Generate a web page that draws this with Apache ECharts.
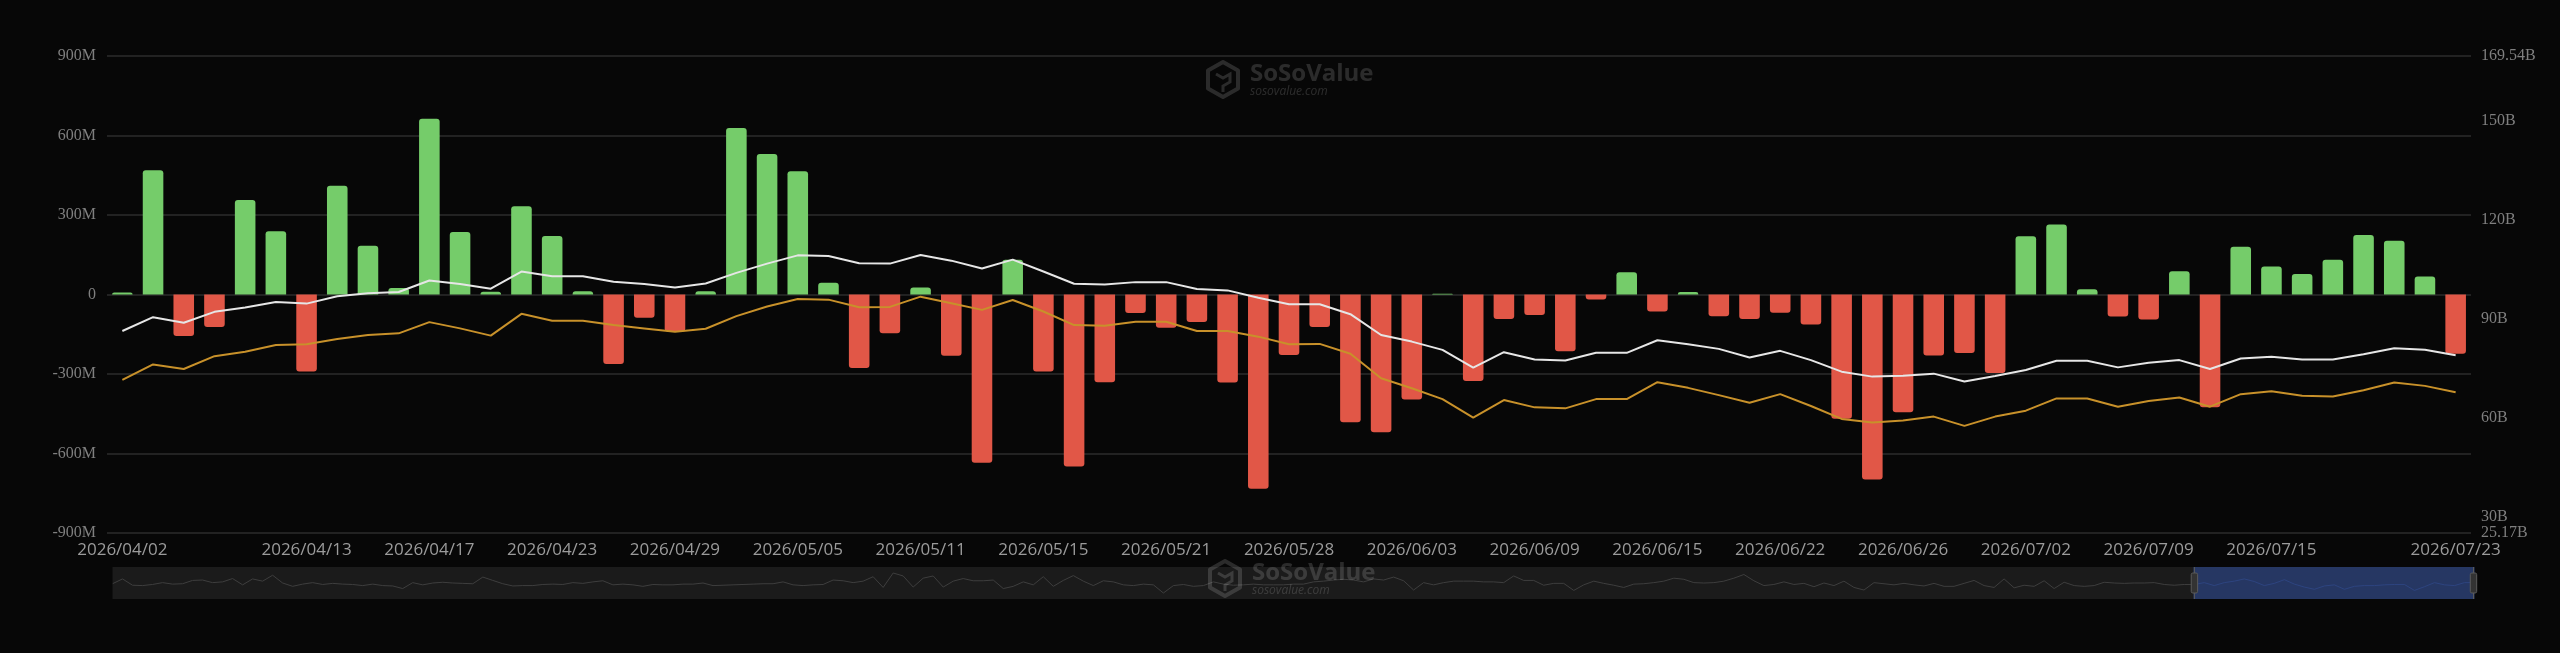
<!DOCTYPE html>
<html>
<head>
<meta charset="utf-8">
<title>Spot ETF Daily Net Inflow</title>
<script src="https://cdn.jsdelivr.net/npm/echarts@6/dist/echarts.min.js"></script>
<style>
  html, body { margin: 0; padding: 0; background: #070707; }
  #chart { width: 2560px; height: 653px; }
</style>
</head>
<body>
<div id="chart"></div>
<script>
// trading days shown in the window
const dates = [
  "2026/04/02", "2026/04/06", "2026/04/07", "2026/04/08", "2026/04/09", "2026/04/10",
  "2026/04/13", "2026/04/14", "2026/04/15", "2026/04/16", "2026/04/17",
  "2026/04/20", "2026/04/21", "2026/04/22", "2026/04/23", "2026/04/24",
  "2026/04/27", "2026/04/28", "2026/04/29", "2026/04/30", "2026/05/01",
  "2026/05/04", "2026/05/05", "2026/05/06", "2026/05/07", "2026/05/08",
  "2026/05/11", "2026/05/12", "2026/05/13", "2026/05/14", "2026/05/15",
  "2026/05/18", "2026/05/19", "2026/05/20", "2026/05/21", "2026/05/22",
  "2026/05/26", "2026/05/27", "2026/05/28", "2026/05/29",
  "2026/06/01", "2026/06/02", "2026/06/03", "2026/06/04", "2026/06/05",
  "2026/06/08", "2026/06/09", "2026/06/10", "2026/06/11", "2026/06/12",
  "2026/06/15", "2026/06/16", "2026/06/17", "2026/06/18",
  "2026/06/22", "2026/06/23", "2026/06/24", "2026/06/25", "2026/06/26",
  "2026/06/29", "2026/06/30", "2026/07/01", "2026/07/02",
  "2026/07/06", "2026/07/07", "2026/07/08", "2026/07/09", "2026/07/10",
  "2026/07/13", "2026/07/14", "2026/07/15", "2026/07/16", "2026/07/17",
  "2026/07/20", "2026/07/21", "2026/07/22", "2026/07/23"
];

// dates that carry a visible tick label
const labelledDates = [
  "2026/04/02", "2026/04/13", "2026/04/17", "2026/04/23", "2026/04/29",
  "2026/05/05", "2026/05/11", "2026/05/15", "2026/05/21", "2026/05/28",
  "2026/06/03", "2026/06/09", "2026/06/15", "2026/06/22", "2026/06/26",
  "2026/07/02", "2026/07/09", "2026/07/15", "2026/07/23"
];

// daily total net inflow, million USD
const dailyNetInflow = [
  8, 469, -157, -123, 357, 239, -291, 410, 184, 25,
  663, 236, 10, 333, 221, 12, -262, -88, -140, 12,
  628, 530, 465, 44, -277, -146, 26, -231, -635, 131,
  -291, -649, -331, -70, -125, -104, -332, -733, -228, -123,
  -482, -520, -396, 3, -326, -92, -77, -214, -19, 84,
  -64, 9, -82, -92, -69, -113, -469, -698, -444, -230,
  -221, -296, 220, 264, 20, -83, -94, 88, -425, 180,
  106, 77, 131, 225, 203, 68, -224
];

// total net assets, billion USD (white line)
const totalNetAssets = [
  86.3, 90.5, 88.8, 92.1, 93.4, 95.1, 94.6, 96.8, 97.7, 98.1,
  101.6, 100.5, 99.1, 104.3, 102.9, 102.9, 101.2, 100.5, 99.5, 100.7,
  103.9, 106.7, 109.2, 109.0, 106.8, 106.7, 109.3, 107.6, 105.2, 107.9,
  104.3, 100.6, 100.4, 101.1, 101.1, 99.0, 98.6, 96.4, 94.4, 94.4,
  91.4, 85.1, 83.1, 80.6, 75.2, 79.9, 77.7, 77.4, 79.7, 79.7,
  83.5, 82.3, 80.9, 78.3, 80.3, 77.5, 74.0, 72.5, 72.8, 73.4,
  71.0, 72.7, 74.5, 77.3, 77.3, 75.3, 76.7, 77.5, 74.8, 78.0,
  78.5, 77.7, 77.7, 79.3, 81.1, 80.6, 79.0
];

// cumulative total net inflow, billion USD (orange line)
const cumulativeNetInflow = [
  71.5, 76.2, 74.8, 78.7, 80.0, 82.1, 82.3, 83.9, 85.1, 85.6,
  89.0, 87.1, 84.9, 91.5, 89.4, 89.4, 88.1, 87.1, 86.1, 87.0,
  90.8, 93.7, 96.0, 95.8, 93.5, 93.6, 96.7, 94.7, 92.7, 95.7,
  92.2, 88.1, 87.9, 89.1, 89.1, 86.3, 86.3, 84.6, 82.3, 82.4,
  79.4, 72.0, 69.0, 65.7, 60.1, 65.4, 63.2, 62.9, 65.7, 65.7,
  70.8, 69.1, 66.9, 64.6, 67.2, 63.6, 59.7, 58.6, 59.2, 60.4,
  57.6, 60.4, 62.2, 65.9, 65.9, 63.4, 65.1, 66.2, 63.4, 67.2,
  68.1, 66.7, 66.5, 68.4, 70.7, 69.7, 67.8
];

// long history of daily net inflow (million USD)
const historyInflow = [
  40, 560, -120, -160, -40, 160, 0, 40, 400, 440,
  160, 240, 600, -80, 560, 320, 960, 120, -240, 0,
  160, -40, 80, 0, -40, -160, 0, -160, -200, -480,
  160, -80, 120, 200, 120, 80, 40, 760, 400, 40,
  -200, -160, -160, -40, 0, -40, 160, 80, 240, 360,
  -80, 0, -80, -240, -40, -80, -80, 0, 0, 120,
  -160, -120, -80, -40, 0, 40, 40, 240, -80, -160,
  -80, -40, 440, 360, 160, 320, 800, -360, 1200, 880,
  -320, 640, 880, -320, 320, 600, 360, 360, 440, -480,
  -240, 240, -80, 800, -240, 400, 920, 320, -160, 360,
  240, -80, -160, 0, -80, -960, -160, -40, -240, -160,
  240, 0, -120, -80, 0, -80, -80, -80, 0, 0,
  240, 320, 440, 520, 440, 240, 560, 440, 760, 360,
  -640, 160, -80, 160, 320, 320, 320, 240, 240, 160,
  880, 400, 400, -120, 80, 80, -680, -80, 320, 80,
  -120, -360, 0, 40, 160, 320, 640, 520, 160, 120,
  160, 320, 640, 1040, 360, -160, -40, 240, -40, 80,
  -280, 120, -160, 320, -360, -640, 160, 40, -80, 80,
  -80, -200, 80, -240, -240, 80, 400, -160, -360, 560,
  -400, -120, -240, 360, -480, 200, -160, -240, -160, 200,
  120, 80, 120, 120, 160, -40, -120, -40, -40,
  160, -160, 160, 320, 560, 280, -160, 80, 480, 0,
  -320, -560, -200, -80, -560, -240, -160, -160, -80, -40,
  -40, -680, -280, 160, -80, -160, 160, 160
];

const GREEN = "#75cc6a";
const RED = "#e15747";
const WM = "rgba(255,255,255,0.15)";

const chart = echarts.init(document.getElementById("chart"));

const barData = dailyNetInflow.map((v) => ({
  value: v,
  itemStyle: {
    color: v >= 0 ? GREEN : RED,
    borderRadius: v >= 0 ? [3, 3, 0, 0] : [0, 0, 3, 3],
  },
}));

// SoSoValue watermark, drawn above everything
const watermark = (x, y) => ({
  type: "group",
  x: x,
  y: y,
  silent: true,
  children: [
    {
      type: "polygon",
      z: 100,
      shape: { points: [[15, 0], [30, 8.5], [30, 26.5], [15, 35], [0, 26.5], [0, 8.5]] },
      style: { fill: "none", stroke: WM, lineWidth: 4, lineJoin: "round" },
    },
    {
      type: "polyline",
      z: 100,
      shape: { points: [[8, 12], [15, 16], [22, 12], [22, 20], [15, 24], [15, 30]] },
      style: { fill: "none", stroke: WM, lineWidth: 3 },
    },
    {
      type: "text",
      z: 100,
      x: 42,
      y: 0,
      style: { text: "SoSoValue", font: 'bold 24px "Open Sans"', fill: WM },
    },
    {
      type: "text",
      z: 100,
      x: 42,
      y: 24,
      style: { text: "sosovalue.com", font: 'italic 12px "Open Sans"', fill: WM },
    },
  ],
});

const option = {
  backgroundColor: "#070707",
  animation: false,
  grid: {
    left: 107,
    right: 89,
    top: 56,
    bottom: 120,
    containLabel: false,
    outerBoundsMode: "none",
  },
  xAxis: [
    {
      type: "category",
      data: dates,
      boundaryGap: true,
      axisLine: { show: false },
      axisTick: { show: false },
      splitLine: { show: false },
      axisLabel: {
        color: "#9b9b9b",
        fontFamily: "Open Sans",
        fontSize: 17,
        margin: 9,
        interval: (idx, value) => labelledDates.includes(value),
      },
    },
    {
      type: "category",
      data: historyInflow.map((_, i) => i),
      show: false,
      boundaryGap: false,
    },
  ],
  yAxis: [
    {
      type: "value",
      position: "left",
      min: -900,
      max: 900,
      interval: 300,
      axisLine: { show: false },
      axisTick: { show: false },
      splitLine: { lineStyle: { color: "#2c2c2c", width: 1.5 } },
      axisLabel: {
        color: "#7f7f7f",
        fontFamily: "Liberation Serif",
        fontSize: 16,
        margin: 11,
        formatter: (v) => (v === 0 ? "0" : v + "M"),
      },
    },
    {
      type: "value",
      position: "right",
      min: 25.17,
      max: 169.54,
      axisLine: { show: false },
      axisTick: { show: false },
      splitLine: { show: false },
      axisLabel: {
        color: "#7f7f7f",
        fontFamily: "Liberation Serif",
        fontSize: 16,
        margin: 10,
        formatter: (v) => v + "B",
      },
    },
    { type: "value", show: false },
  ],
  dataZoom: [
    {
      type: "slider",
      xAxisIndex: 1,
      start: 88.1,
      end: 100,
      left: 110,
      right: 88,
      bottom: 54,
      height: 32,
      z: 4,
      backgroundColor: "#1b1b1b",
      borderColor: "transparent",
      borderRadius: 0,
      fillerColor: "rgba(40,60,112,0.85)",
      showDetail: false,
      brushSelect: false,
      moveHandleSize: 0,
      handleIcon:
        "path://M-9.35,34.56V42m0-40V9.5m-2,0h4a2,2,0,0,1,2,2v21a2,2,0,0,1-2,2h-4a2,2,0,0,1-2-2v-21A2,2,0,0,1-11.35,9.5Z",
      handleSize: "100%",
      handleStyle: { color: "#333333", borderColor: "#5a5a5a", borderWidth: 1 },
      dataBackground: {
        lineStyle: { color: "#3e3e3e", width: 1, opacity: 1 },
        areaStyle: { opacity: 0 },
      },
      selectedDataBackground: {
        lineStyle: { color: "#4a70d8", width: 1, opacity: 1 },
        areaStyle: { opacity: 0 },
      },
    },
  ],
  graphic: {
    elements: [watermark(1208, 62), watermark(1210, 561)],
  },
  series: [
    {
      name: "Daily Total Net Inflow",
      type: "bar",
      xAxisIndex: 0,
      yAxisIndex: 0,
      barWidth: "67%",
      data: barData,
    },
    {
      name: "Total Net Assets",
      type: "line",
      xAxisIndex: 0,
      yAxisIndex: 1,
      data: totalNetAssets,
      symbol: "none",
      lineStyle: { color: "#e6e6e6", width: 2 },
      itemStyle: { color: "#e6e6e6" },
    },
    {
      name: "Cumulative Total Net Inflow",
      type: "line",
      xAxisIndex: 0,
      yAxisIndex: 1,
      data: cumulativeNetInflow,
      symbol: "none",
      lineStyle: { color: "#c8912a", width: 2 },
      itemStyle: { color: "#c8912a" },
    },
    {
      name: "history",
      type: "line",
      xAxisIndex: 1,
      yAxisIndex: 2,
      data: historyInflow,
      symbol: "none",
      silent: true,
      lineStyle: { opacity: 0 },
    },
  ],
};

chart.setOption(option);
</script>
</body>
</html>
